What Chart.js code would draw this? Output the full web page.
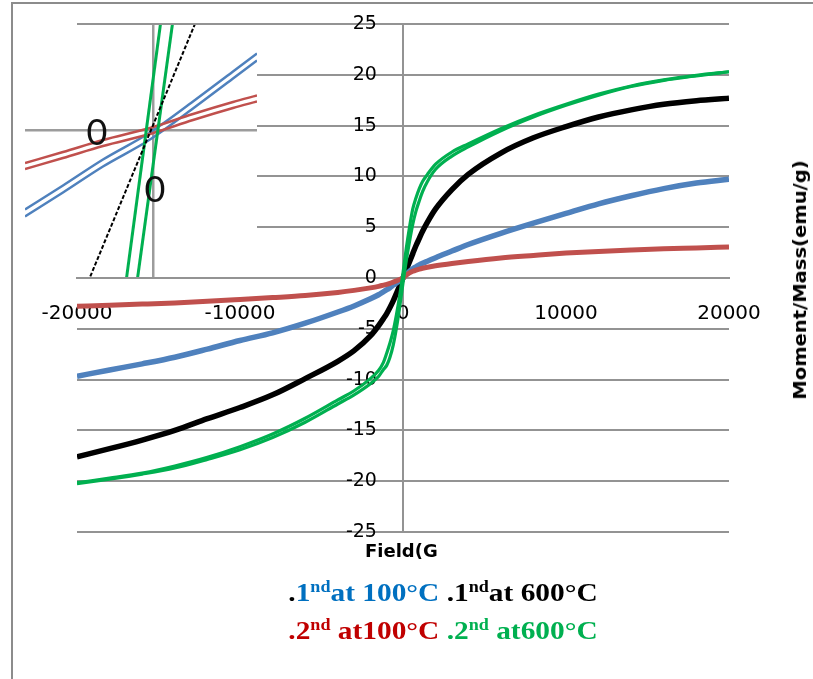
<!DOCTYPE html>
<html>
<head>
<meta charset="utf-8">
<script src="https://cdn.jsdelivr.net/npm/chart.js@4.4.1/dist/chart.umd.min.js"></script>
<style>
  body { margin: 0; background: #fff; }
  #wrap { position: relative; width: 813px; height: 679px; overflow: hidden; background: #fff; }
  #frame { position: absolute; left: 11px; top: 2px; width: 900px; height: 800px;
           border-left: 2px solid #8c8c8c; border-top: 2px solid #8c8c8c; }
  #mainChart { position: absolute; left: 0; top: 0; }
  #insetBox { position: absolute; left: 25px; top: 25px; width: 232px; height: 252px; background: #fff; }
  .zero { position: absolute; font-family: Lato, sans-serif; font-size: 36px; line-height: 1;
          color: #111; transform: translate(-50%, -50%); }
  #xTitle { position: absolute; left: 365px; top: 540px; font-family: 'DejaVu Sans', sans-serif;
            font-weight: bold; font-size: 18px; white-space: nowrap; }
  #yTitle { position: absolute; left: 800px; top: 280px; font-family: 'DejaVu Sans', sans-serif;
            font-weight: bold; font-size: 17px; white-space: nowrap;
            transform: translate(-50%, -50%) rotate(-90deg) scaleX(1.15); }
  #legend { position: absolute; left: 243px; top: 574px; width: 400px; text-align: center;
            font-family: 'Liberation Serif', serif; font-weight: bold; font-size: 26px; line-height: 38px;
            transform: scaleX(1.13); transform-origin: 200px 0; }
  #legend sup { font-size: 16px; line-height: 0; vertical-align: 9px; }
</style>
</head>
<body>
<div id="wrap">
  <div id="frame"></div>
  <canvas id="mainChart" width="813" height="679"></canvas>
  <div id="insetBox"><canvas id="insetChart" width="232" height="252"></canvas></div>
  <span class="zero" style="left:97px; top:131px;">0</span>
  <span class="zero" style="left:155px; top:188px;">0</span>
  <div id="xTitle">Field(G</div>
  <div id="yTitle">Moment/Mass(emu/g)</div>
  <div id="legend">
    <div><span style="color:#000">.</span><span style="color:#0070C0">1<sup>nd</sup>at 100°C</span> <span style="color:#000">.1<sup>nd</sup>at 600°C</span></div>
    <div><span style="color:#C00000">.2<sup>nd</sup> at100°C</span> <span style="color:#00B050">.2<sup>nd</sup> at600°C</span></div>
  </div>
</div>
<script>
// field in G, moment in emu/g
const field = [-20000, -18000, -16000, -14000, -12000, -10000, -8000, -6000, -4000, -3000, -2000, -1500, -1200, -1000, -800, -600, -400, -200,
               0, 200, 400, 600, 800, 1000, 1200, 1500, 2000, 3000, 4000, 6000, 8000, 10000, 12000, 14000, 16000, 18000, 20000];

const first100 = [-9.67, -9.05, -8.45, -7.8, -7.0, -6.15, -5.4, -4.45, -3.35, -2.75, -2.05, -1.65, -1.35, -1.15, -0.95, -0.7, -0.5, -0.25,
                  0, 0.35, 0.65, 0.9, 1.1, 1.3, 1.45, 1.65, 2.0, 2.65, 3.3, 4.4, 5.4, 6.35, 7.3, 8.1, 8.8, 9.35, 9.72];

const second100 = [-2.78, -2.68, -2.57, -2.45, -2.3, -2.12, -1.93, -1.72, -1.42, -1.22, -0.97, -0.82, -0.7, -0.62, -0.52, -0.4, -0.28, -0.15,
                   0, 0.3, 0.5, 0.66, 0.78, 0.88, 0.96, 1.06, 1.2, 1.43, 1.63, 1.97, 2.22, 2.45, 2.62, 2.76, 2.88, 2.96, 3.05];

const first600 = [-17.6, -16.8, -15.95, -15.0, -13.85, -12.75, -11.5, -9.9, -8.2, -7.15, -5.7, -4.7, -4.0, -3.5, -2.9, -2.25, -1.5, -0.75,
                  0, 0.8, 1.6, 2.4, 3.2, 3.9, 4.6, 5.5, 6.8, 8.7, 10.2, 12.3, 13.8, 14.9, 15.85, 16.55, 17.1, 17.45, 17.7];

// 2nd at 600: the two branches of the loop
const second600Down = [-20.15, -19.7, -19.2, -18.5, -17.65, -16.6, -15.35, -13.8, -12.0, -11.1, -9.9, -9.1, -8.3, -7.4, -6.4, -5.2, -3.6, -1.7,
                       0.5, 2.9, 5.0, 6.8, 7.9, 8.8, 9.5, 10.2, 11.2, 12.4, 13.2, 14.7, 16.0, 17.1, 18.1, 18.9, 19.5, 19.95, 20.3];
const second600Up = [-20.25, -19.8, -19.3, -18.7, -17.85, -16.9, -15.7, -14.2, -12.4, -11.5, -10.4, -9.7, -9.0, -8.6, -7.8, -6.6, -4.9, -2.8,
                     -0.5, 1.7, 3.6, 5.3, 6.6, 7.6, 8.5, 9.5, 10.7, 12.0, 12.9, 14.5, 15.85, 17.0, 18.0, 18.85, 19.45, 19.9, 20.3];

const fieldTicks = [-20000, -10000, 0, 10000, 20000];
const momentTicks = [-25, -20, -15, -10, -5, 0, 5, 10, 15, 20, 25];

// inset: zoom around the origin
const insetField = [-640, -450, -250, -15, 200, 400, 520];
const insetRedA = [-0.33, -0.22, -0.10, 0.02, 0.16, 0.28, 0.345];
const insetRedB = [-0.39, -0.28, -0.16, -0.04, 0.10, 0.22, 0.285];
const insetBlueA = [-0.795, -0.555, -0.295, -0.025, 0.285, 0.585, 0.765];
const insetBlueB = [-0.865, -0.625, -0.365, -0.095, 0.215, 0.515, 0.695];
const insetGreenAField = [-135, 40];
const insetGreenBField = [-80, 100];
const insetGreenMoment = [-1.52, 1.10];
const insetBlackField = [-325, 220];
const insetBlackMoment = [-1.52, 1.11];

const gridGrey = '#939393';
// where the plot area should end up on the page
const plotBox = { left: 77, right: 729, top: 24, bottom: 532 };

function pts(xs, ys) {
    return xs.map((x, i) => ({ x: x, y: ys[i] }));
}

function line(data, color, width, extra) {
    return Object.assign({
        data: data,
        borderColor: color,
        backgroundColor: color,
        borderWidth: width,
        showLine: true,
        pointRadius: 0,
        fill: false,
        cubicInterpolationMode: 'monotone',
        borderJoinStyle: 'round'
    }, extra || {});
}

const mainChart = new Chart(document.getElementById('mainChart').getContext('2d'), {
    type: 'scatter',
    data: {
        datasets: [
            line(pts(field, second600Down), '#00B050', 3.2),
            line(pts(field, second600Up), '#00B050', 3.2),
            line(pts(field, second100), '#C0504D', 5),
            line(pts(field, first100), '#4F81BD', 5.5),
            line(pts(field, first600), '#000000', 5.5)
        ]
    },
    options: {
        responsive: false,
        animation: false,
        devicePixelRatio: 1,
        layout: { padding: { left: 77, right: 84, top: 24, bottom: 147 } },
        plugins: { legend: { display: false }, tooltip: { enabled: false } },
        scales: {
            x: {
                type: 'linear',
                min: -20000,
                max: 20000,
                position: { y: 0 },
                afterBuildTicks: axis => { axis.ticks = fieldTicks.map(v => ({ value: v })); },
                ticks: {
                    autoSkip: false,
                    maxRotation: 0,
                    padding: 24,
                    color: '#000',
                    font: { family: 'DejaVu Sans', size: 20 },
                    callback: v => String(v)
                },
                // only the zero line is drawn: it is the vertical axis
                grid: {
                    drawTicks: false,
                    lineWidth: 2,
                    color: c => (c.tick && c.tick.value === 0) ? gridGrey : 'rgba(0,0,0,0)'
                },
                border: { color: gridGrey, width: 2 }
            },
            y: {
                type: 'linear',
                min: -25,
                max: 25,
                // labels sit a little left of the zero line
                position: { x: -1600 },
                afterBuildTicks: axis => { axis.ticks = momentTicks.map(v => ({ value: v })); },
                ticks: {
                    autoSkip: false,
                    color: '#000',
                    font: { family: 'DejaVu Sans', size: 19 },
                    callback: v => String(v)
                },
                grid: { color: gridGrey, lineWidth: 2, drawTicks: false },
                border: { display: false }
            }
        }
    }
});

// the centred axes shift the plot area a little; nudge the padding until it sits where it should
for (let i = 0; i < 4; i++) {
    const area = mainChart.chartArea;
    const pad = mainChart.options.layout.padding;
    pad.top += plotBox.top - area.top;
    pad.bottom += area.bottom - plotBox.bottom;
    pad.left += plotBox.left - area.left;
    pad.right += area.right - plotBox.right;
    mainChart.update();
}

const insetChart = new Chart(document.getElementById('insetChart').getContext('2d'), {
    type: 'scatter',
    data: {
        datasets: [
            line(pts(insetBlackField, insetBlackMoment), '#000000', 2, { borderDash: [4, 2] }),
            line(pts(insetGreenAField, insetGreenMoment), '#00B050', 3),
            line(pts(insetGreenBField, insetGreenMoment), '#00B050', 3),
            line(pts(insetField, insetRedA), '#C0504D', 2.5),
            line(pts(insetField, insetRedB), '#C0504D', 2.5),
            line(pts(insetField, insetBlueA), '#4F81BD', 2.5),
            line(pts(insetField, insetBlueB), '#4F81BD', 2.5)
        ]
    },
    options: {
        responsive: false,
        animation: false,
        devicePixelRatio: 1,
        layout: { padding: 0 },
        plugins: { legend: { display: false }, tooltip: { enabled: false } },
        scales: {
            x: {
                type: 'linear', min: -640, max: 520, position: { y: 0 },
                ticks: { display: false }, grid: { display: false },
                border: { color: '#9c9c9c', width: 2.5 }
            },
            y: {
                type: 'linear', min: -1.47, max: 1.05, position: { x: 0 },
                ticks: { display: false }, grid: { display: false },
                border: { color: '#9c9c9c', width: 2.5 }
            }
        }
    }
});
</script>
</body>
</html>
